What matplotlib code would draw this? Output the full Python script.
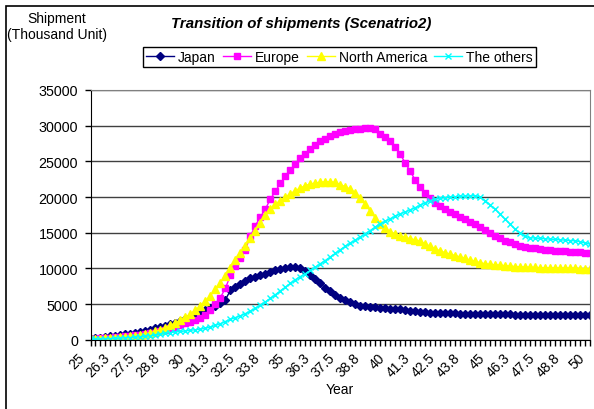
import matplotlib
matplotlib.use("Agg")
import matplotlib.pyplot as plt
from matplotlib.patches import Rectangle
import numpy as np

plt.rcParams['font.family'] = ['Liberation Sans', 'DejaVu Sans']

# Quarterly time axis (years 25 .. 50)
years = [25 + 0.25 * k for k in range(101)]
tick_labels = ["25", "26.3", "27.5", "28.8", "30", "31.3", "32.5", "33.8", "35",
               "36.3", "37.5", "38.8", "40", "41.3", "42.5", "43.8", "45", "46.3",
               "47.5", "48.8", "50"]

japan = [150, 220, 290, 370, 450, 540, 640, 740, 850, 970,
         1100, 1240, 1400, 1570, 1760, 1960, 2170, 2400, 2650, 2920,
         3200, 3500, 3800, 4100, 4400, 4750, 5100, 5600, 6900, 7400,
         7850, 8250, 8600, 8800, 9000, 9250, 9450, 9700, 9900, 10050,
         10200, 10200, 10000, 9600, 9100, 8500, 7900, 7250, 6780, 6300,
         5900, 5550, 5230, 4950, 4780, 4680, 4600, 4540, 4480, 4420,
         4360, 4300, 4240, 4130, 4040, 3960, 3900, 3850, 3810, 3780,
         3750, 3720, 3700, 3680, 3660, 3640, 3630, 3620, 3600, 3590,
         3580, 3570, 3560, 3550, 3540, 3530, 3520, 3510, 3500, 3495,
         3490, 3485, 3480, 3475, 3470, 3465, 3460, 3455, 3450, 3450,
         3450]

europe = [100, 150, 200, 250, 300, 350, 400, 460, 530, 600,
          680, 770, 870, 1000, 1200, 1400, 1600, 1800, 2100, 2300,
          2500, 2700, 3000, 3500, 4200, 5000, 5900, 7200, 9000, 10300,
          11400, 12600, 14500, 16000, 17200, 18300, 19700, 20800, 21900, 22900,
          23800, 24600, 25400, 26000, 26700, 27300, 27800, 28200, 28550, 28800,
          29050, 29250, 29400, 29500, 29600, 29650, 29650, 29600, 28900, 28350,
          27800, 27000, 26000, 24800, 23600, 22400, 21400, 20500, 19800, 19200,
          18750, 18350, 17950, 17550, 17200, 16900, 16550, 16200, 15800, 15400,
          15000, 14600, 14200, 13900, 13650, 13400, 13200, 13050, 12900, 12800,
          12700, 12600, 12520, 12460, 12410, 12380, 12330, 12290, 12250, 12200,
          12150]

north_america = [50, 100, 150, 200, 250, 300, 360, 420, 500, 580,
                 680, 800, 950, 1150, 1400, 1700, 2000, 2350, 2750, 3150,
                 3600, 4150, 4700, 5400, 6150, 7050, 8000, 8950, 10000, 11200,
                 12200, 13100, 14200, 15300, 16400, 17500, 18300, 19000, 19500, 20000,
                 20450, 20900, 21250, 21600, 21820, 21960, 22060, 22150, 22150, 22050,
                 21750, 21450, 21100, 20600, 19900, 19000, 18050, 17100, 16200, 15600,
                 15150, 14800, 14550, 14330, 14150, 14000, 13780, 13450, 13100, 12750,
                 12450, 12200, 12000, 11800, 11600, 11400, 11150, 11000, 10800, 10650,
                 10550, 10500, 10450, 10380, 10320, 10260, 10220, 10190, 10160, 10130,
                 10100, 10070, 10050, 10040, 10020, 10010, 10000, 9990, 9970, 9960,
                 9950]

others = [30, 60, 90, 120, 150, 180, 220, 260, 300, 350,
          400, 480, 560, 650, 760, 880, 1000, 1080, 1150, 1230,
          1320, 1400, 1480, 1600, 1780, 2000, 2250, 2550, 2850, 3100,
          3350, 3650, 4000, 4400, 4850, 5300, 5800, 6300, 6850, 7350,
          7900, 8400, 8850, 9250, 9700, 10150, 10650, 11100, 11600, 12100,
          12600, 13100, 13550, 13950, 14400, 14850, 15300, 15800, 16250, 16600,
          16950, 17300, 17650, 17900, 18200, 18500, 18850, 19200, 19500, 19700,
          19820, 19920, 20000, 20050, 20080, 20120, 20150, 20190, 19980, 19500,
          18900, 18300, 17600, 16900, 16200, 15500, 14950, 14500, 14300, 14250,
          14200, 14150, 14100, 14050, 14000, 13950, 13900, 13850, 13750, 13550,
          13400]

W, H = 594, 410
fig = plt.figure(figsize=(W / 100, H / 100), dpi=100)

# chart-area frame
fig.patches.append(Rectangle((6 / W, -0.1), 1.2, (H - 7) / H + 0.1,
                             transform=fig.transFigure, fill=False,
                             edgecolor='black', linewidth=1.2))

ax = fig.add_axes([90.5 / W, (H - 340.7) / H, (590 - 90.5) / W, (340.7 - 91) / H])

x = np.arange(len(years))
ax.plot(x, japan, color='#000080', lw=1, marker='D', ms=4, label='Japan')
ax.plot(x, europe, color='#FF00FF', lw=1, marker='s', ms=5, label='Europe')
ax.plot(x, north_america, color='#FFFF00', lw=1, marker='^', ms=6, label='North America')
ax.plot(x, others, color='#00FFFF', lw=1, marker='x', ms=5, mew=1, label='The others')

ax.set_xlim(0, len(years) - 1)
ax.set_ylim(0, 35000)
ax.set_yticks(range(0, 35001, 5000))
ax.set_yticklabels([str(v) for v in range(0, 35001, 5000)], fontsize=10.3)

# category ticks at every quarter, labels every 5th category (slanted)
ax.set_xticks(x[::5])
ax.set_xticklabels([])
ax.set_xticks(x, minor=True)
for pos, txt in zip(x[::5], tick_labels):
    ax.annotate(txt, xy=(pos, 0), xycoords=('data', 'axes fraction'),
                xytext=(-9, -7.5), textcoords='offset points',
                rotation=45, ha='right', va='top', rotation_mode='anchor',
                fontsize=10, annotation_clip=False)
ax.tick_params(axis='x', which='both', direction='out', length=4, width=1)
ax.tick_params(axis='y', direction='out', length=4, width=1, pad=5)

ax.grid(axis='y', color='#404040', lw=1)
ax.set_axisbelow(True)
for side in ['top', 'right']:
    ax.spines[side].set_color('#808080')
for side in ['left', 'bottom']:
    ax.spines[side].set_color('black')

fig.text(340 / W, 1 - 390 / H, 'Year', ha='center', va='center', fontsize=10)

fig.text(57 / W, 1 - 27 / H, 'Shipment\n(Thousand Unit)', ha='center', va='center',
         fontsize=10, linespacing=1.15)
fig.text(301 / W, 1 - 24 / H, 'Transition of shipments (Scenatrio2)', ha='center',
         va='center', fontsize=10.8, fontweight='bold', fontstyle='italic')

leg = fig.legend(loc='center', bbox_to_anchor=(339.5 / W, 1 - 58 / H), ncol=4,
                 fontsize=10, frameon=True, fancybox=False, framealpha=1,
                 edgecolor='black', handlelength=2.0, handletextpad=0.3,
                 columnspacing=0.5, borderpad=0.25)
leg.get_frame().set_linewidth(1)

fig.savefig('out.png', dpi=100)
